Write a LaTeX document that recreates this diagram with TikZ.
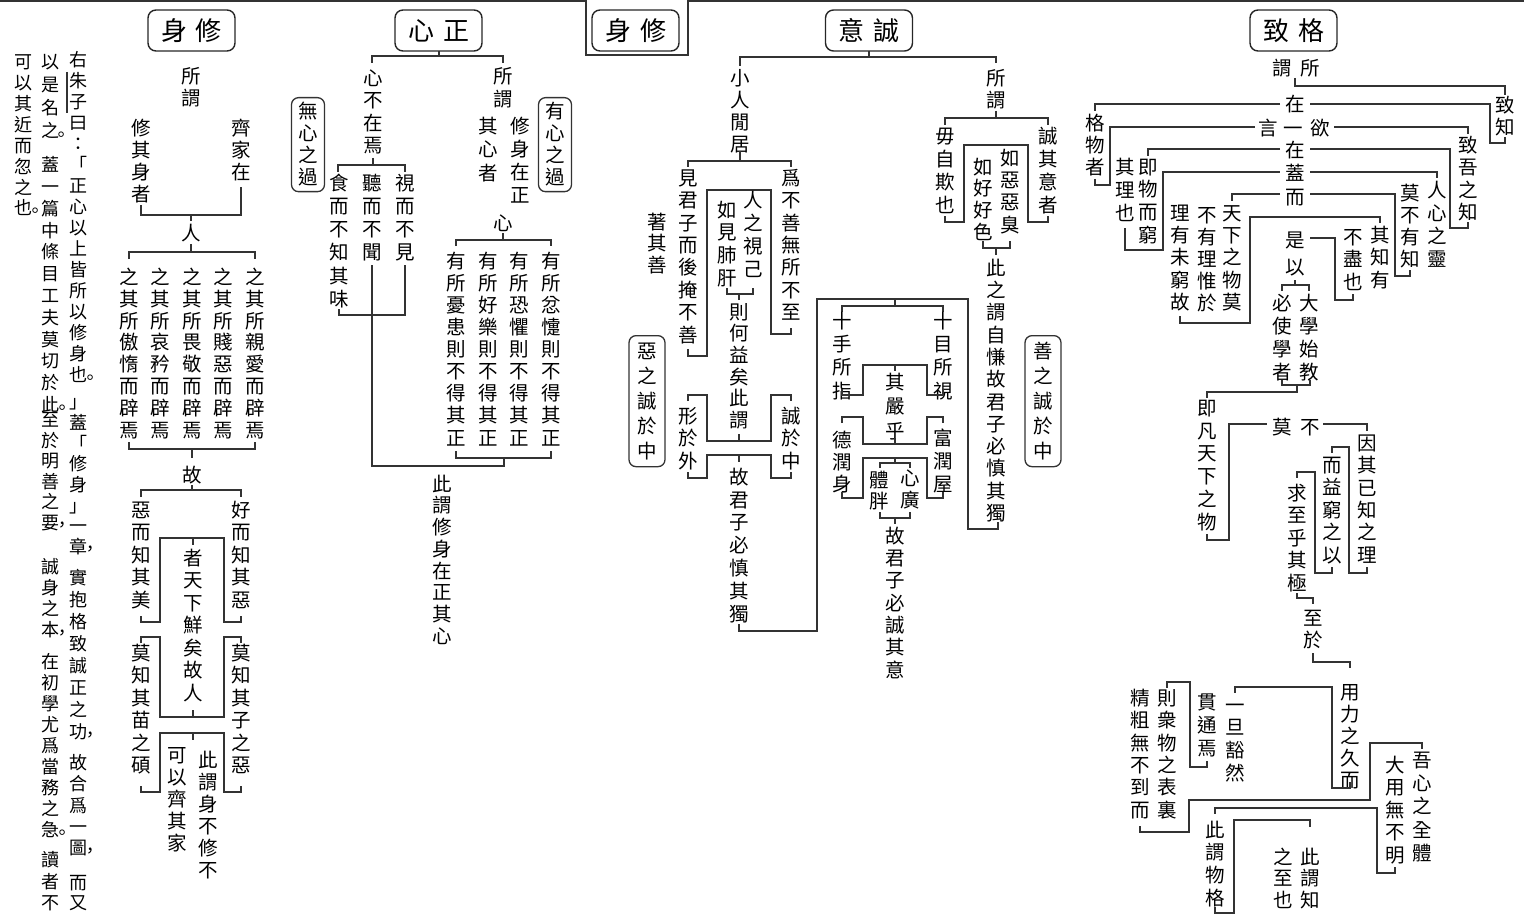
\documentclass[tikz,border=0pt]{standalone}
\usepackage{fontspec}
\newfontfamily\cjk{Noto Sans CJK TC}
\newdimen\cstep
\def\vtEnd{VTEND}
\def\vtA#1{\ifx#1\vtEnd\else\vtcell#1\expandafter\vtA\fi}
\def\vpunct#1{\vbox to 0pt{\vss\hbox to \cstep{\kern 14pt\hbox{#1}\hss}\kern 1.5pt}}
\def\vtcell#1{%
  \ifx#1。\vpunct{#1}\else
  \ifx#1，\vpunct{#1}\else
  \hbox to \cstep{\hss\vbox to \cstep{\vss\hbox{\vrule height .86em depth .14em width 0pt\relax #1}\vss}\hss}%
  \fi\fi}
\newcommand\vtext[2]{\vbox{\offinterlineskip\cstep=#1pt\relax\vtA#2\vtEnd}}
\tikzset{
  ln/.style={line width=1.35pt, draw=black!80},
  vt/.style={inner sep=0pt, font={\cjk\fontsize{19.5}{22}\selectfont}, text=black},
  pt/.style={inner sep=0pt, font={\cjk\fontsize{18}{20}\selectfont}, text=black},
  title/.style={draw=black!85, line width=1.4pt, rounded corners=8pt, minimum width=87pt, minimum height=41pt, inner sep=0pt, font={\cjk\fontsize{26}{26}\selectfont}},
  vbx/.style={vt, draw=black!80, line width=1.3pt, rounded corners=7pt, inner xsep=5.5pt, inner ysep=3pt, anchor=north}
}
\newcommand\VT[5]{\node[vt,anchor=north] (#1) at (#2,{#3-#4/2}) {\vtext{#4}{#5}};}
\newcommand\PT[5]{\node[pt,anchor=north] (#1) at (#2,{#3-#4/2}) {\vtext{#4}{#5}};}
\newcommand\VB[5]{\node[vbx] (#1) at (#2,#3) {\vtext{#4}{#5}};}
\begin{document}
\begin{tikzpicture}[x=1pt,y=-1pt]
\useasboundingbox (0,0) rectangle (1524,915);
% top frame
\draw[ln] (0,1)--(586,1) (688,1)--(1524,1);
\draw[ln] (586,0)--(586,55)--(688,55)--(688,0);
% titles
\node[title] (t1) at (191.5,30.5) {身\kern9pt修};
\node[title] (t2) at (438.5,30.5) {心\kern9pt正};
\node[title] (t3) at (635.5,30.5) {身\kern9pt修};
\node[title] (t4) at (869,30.5) {意\kern9pt誠};
\node[title] (t5) at (1293.5,30.5) {致\kern9pt格};
% ---------- left paragraph ----------
\PT{p1a}{78}{60}{21}{右朱子曰：「正心以上皆所以修身也。}
\PT{p1b}{78}{402}{20.7}{」蓋「修身」一章，}
\PT{p1c}{78}{578}{22}{實抱格致誠正之功，}
\PT{p1d}{78}{763}{21.3}{故合爲一圖，}
\PT{p1e}{78}{883}{20}{而又}
\PT{p2a}{50}{62}{23}{以是名之。}
\PT{p2b}{50}{165}{21.8}{蓋一篇中條目工夫莫切於此。}
\PT{p2c}{50}{420}{20.5}{至於明善之要，}
\PT{p2d}{50}{567}{21}{誠身之本，}
\PT{p2e}{50}{662}{21}{在初學尤爲當務之急。}
\PT{p2f}{50}{860}{21.5}{讀者不}
\PT{p3}{23}{62}{20.9}{可以其近而忽之也。}
\draw[line width=1.1pt, black!80] (67,72)--(67,113);
% ---------- section 1 ----------
\VT{s1}{191}{76}{22}{所謂}
\VT{s2}{141}{128}{22}{修其身者}
\VT{s3}{241}{128}{22}{齊家在}
\draw[ln] (141,205)--(141,215)--(241,215)--(241,187) (191,215)--(191,221);
\VT{s4}{191}{233}{22}{人}
\draw[ln] (191,244)--(191,252) (129,259)--(129,252)--(255,252)--(255,259);
\VT{s5}{129}{277}{21.9}{之其所傲惰而辟焉}
\VT{s6}{160}{277}{21.9}{之其所哀矜而辟焉}
\VT{s7}{192}{277}{21.9}{之其所畏敬而辟焉}
\VT{s8}{223}{277}{21.9}{之其所賤惡而辟焉}
\VT{s9}{255}{277}{21.9}{之其所親愛而辟焉}
\draw[ln] (129,442)--(129,449)--(255,449)--(255,442) (192,449)--(192,458);
\VT{s10}{192}{475}{22}{故}
\draw[ln] (192,485)--(192,490) (141,497)--(141,490)--(241,490)--(241,497);
\VT{s11}{141}{510}{22.5}{惡而知其美}
\VT{s12}{241}{510}{22.5}{好而知其惡}
\draw[ln] (141,616)--(141,622)--(160,622)--(160,538)--(224,538)--(224,622)--(241,622)--(241,616) (193,538)--(193,545);
\VT{s13}{193}{558}{22.5}{者天下鮮矣故人}
\draw[ln] (141,643)--(141,637)--(160,637)--(160,717)--(224,717)--(224,637)--(241,637)--(241,643) (193,717)--(193,710);
\VT{s14}{141}{653}{22.5}{莫知其苗之碩}
\VT{s15}{241}{653}{22.5}{莫知其子之惡}
\draw[ln] (141,786)--(141,792)--(160,792)--(160,733)--(224,733)--(224,792)--(241,792)--(241,786) (193,733)--(193,740);
\VT{s16}{177}{755}{22}{可以齊其家}
\VT{s17}{208}{760}{22}{此謂身不修不}
% ---------- section 2 ----------
\draw[ln] (439,51)--(439,56) (372,63)--(372,56)--(503,56)--(503,63);
\VT{c1}{373}{78}{22.5}{心不在焉}
\VT{c2}{503}{76}{23}{所謂}
\VT{c3}{488}{126}{23.5}{其心者}
\VT{c4}{520}{126}{23}{修身在正}
\VB{c5}{308}{97}{22}{無心之過}
\VB{c6}{555}{97}{22}{有心之過}
\draw[ln] (373,158)--(373,165) (338,172)--(338,165)--(405,165)--(405,172);
\VT{c7}{339}{183}{23.2}{食而不知其味}
\VT{c8}{372}{183}{23}{聽而不聞}
\VT{c9}{405}{183}{23}{視而不見}
\draw[ln] (339,309)--(339,315)--(405,315)--(405,265);
\draw[ln] (372,265)--(372,466)--(504,466)--(504,458);
\VT{c10}{503}{223}{22}{心}
\draw[ln] (503,233)--(503,240) (456,246)--(456,240)--(551,240)--(551,246);
\VT{c11}{456}{261}{22.1}{有所憂患則不得其正}
\VT{c12}{488}{261}{22.1}{有所好樂則不得其正}
\VT{c13}{519}{261}{22.1}{有所恐懼則不得其正}
\VT{c14}{551}{261}{22.1}{有所忿懥則不得其正}
\draw[ln] (456,451)--(456,458)--(551,458)--(551,451);
\VT{c15}{442}{484}{21.7}{此謂修身在正其心}
% ---------- section 4 ----------
\draw[ln] (869,51)--(869,57) (740,66)--(740,57)--(996,57)--(996,63);
\VT{y1}{740}{78}{22}{小人閒居}
\draw[ln] (740,151)--(740,161) (688,167)--(688,161)--(791,161)--(791,167);
\VT{y2}{688}{178}{22.4}{見君子而後掩不善}
\VT{y3}{791}{178}{22.4}{爲不善無所不至}
\VT{y4}{657}{222}{21.5}{著其善}
\draw[ln] (688,349)--(688,356)--(707,356)--(707,190)--(771,190)--(771,334)--(791,334)--(791,328);
\VT{y5}{753}{200}{23}{人之視己}
\VT{y6}{727}{210}{22.7}{如見肺肝}
\draw[ln] (727,288)--(727,294)--(753,294)--(753,288) (739,294)--(739,300);
\VT{y7}{739}{312}{21.6}{則何益矣此謂}
\draw[ln] (688,401)--(688,395)--(707,395)--(707,441)--(771,441)--(771,395)--(791,395)--(791,401) (739,441)--(739,434);
\VT{y8}{688}{416}{22.5}{形於外}
\VT{y9}{791}{416}{22.5}{誠於中}
\draw[ln] (688,472)--(688,478)--(707,478)--(707,455)--(771,455)--(771,478)--(791,478)--(791,472) (739,455)--(739,462);
\VT{y10}{739}{477}{22.8}{故君子必慎其獨}
\draw[ln] (739,624)--(739,631)--(817,631)--(817,299)--(968,299)--(968,529)--(998,529)--(998,522);
\draw[ln] (895,299)--(895,306) (842,312)--(842,306)--(943,306)--(943,312);
\VB{y11}{647}{335}{25}{惡之誠於中}
\VT{y12}{996}{78}{22}{所謂}
\draw[ln] (996,111)--(996,118) (945,125)--(945,118)--(1048,118)--(1048,125);
\VT{y13}{945}{136}{23}{毋自欺也}
\VT{y14}{1048}{136}{23}{誠其意者}
\draw[ln] (945,216)--(945,222)--(964,222)--(964,145)--(1028,145)--(1028,222)--(1048,222)--(1048,216);
\VT{y15}{1010}{158}{22.3}{如惡惡臭}
\VT{y16}{983}{167}{21.7}{如好好色}
\draw[ln] (983,241)--(983,248)--(1010,248)--(1010,241) (996,248)--(996,255);
\VT{y17}{996}{268}{22.3}{此之謂自慊故君子必慎其獨}
\VB{y18}{1043}{335}{25}{善之誠於中}
\VT{y19}{842}{321}{23.3}{十手所指}
\VT{y20}{943}{321}{23.3}{十目所視}
\draw[ln] (842,389)--(842,395)--(863,395)--(863,365)--(927,365)--(927,395)--(943,395)--(943,389) (895,365)--(895,371);
\VT{y21}{895}{382}{24.5}{其嚴乎}
\draw[ln] (842,423)--(842,417)--(863,417)--(863,444)--(927,444)--(927,417)--(943,417)--(943,423) (895,444)--(895,438);
\VT{y22}{842}{440}{22}{德潤身}
\VT{y23}{943}{438}{23}{富潤屋}
\draw[ln] (842,492)--(842,498)--(863,498)--(863,458)--(927,458)--(927,498)--(943,498)--(943,492);
\draw[ln] (895,458)--(895,463) (880,468)--(880,463)--(910,463)--(910,468);
\VT{y24}{879}{480}{21}{體胖}
\VT{y25}{910}{478}{22}{心廣}
\draw[ln] (880,512)--(880,518)--(910,518)--(910,512) (895,518)--(895,524);
\VT{y26}{895}{536}{22.3}{故君子必誠其意}
% ---------- section 5 ----------
\node[vt] (g1) at (1296,68) {謂\kern9pt所};
\draw[ln] (1295,78)--(1295,86)--(1505,86)--(1505,95);
\VT{g2}{1505}{105}{22}{致知}
\draw[ln] (1505,137)--(1505,143)--(1490,143)--(1490,104)--(1310,104);
\VT{g3}{1295}{104}{22}{在}
\draw[ln] (1280,104)--(1095,104)--(1095,111);
\VT{g4}{1095}{123}{22}{格物者}
\draw[ln] (1095,179)--(1095,185)--(1110,185)--(1110,127)--(1255,127);
\node[vt] (g5) at (1294,128) {言\kern6pt一\kern7pt欲};
\draw[ln] (1334,127)--(1468,127)--(1468,134);
\VT{g6}{1468}{145}{22.5}{致吾之知}
\draw[ln] (1468,222)--(1468,228)--(1450,228)--(1450,149)--(1310,149);
\VT{g7}{1295}{150}{22}{在}
\draw[ln] (1280,149)--(1148,149)--(1148,156);
\VT{g8}{1148}{167}{22.7}{即物而窮}
\VT{g9}{1125}{167}{23}{其理也}
\draw[ln] (1125,228)--(1125,250)--(1163,250)--(1163,172)--(1280,172);
\VT{g10}{1295}{173}{22}{蓋}
\draw[ln] (1310,172)--(1437,172)--(1437,178);
\VT{g11}{1437}{190}{23}{人心之靈}
\VT{g12}{1410}{193}{22}{莫不有知}
\draw[ln] (1410,270)--(1410,276)--(1395,276)--(1395,194)--(1310,194);
\VT{g13}{1295}{197}{22}{而}
\draw[ln] (1280,194)--(1232,194)--(1232,201);
\VT{g14}{1232}{213}{22.3}{天下之物莫}
\VT{g15}{1207}{215}{22}{不有理惟於}
\VT{g16}{1180}{213}{22.3}{理有未窮故}
\draw[ln] (1180,316)--(1180,323)--(1250,323)--(1250,217)--(1380,217)--(1380,223);
\VT{g17}{1380}{235}{22.5}{其知有}
\VT{g18}{1353}{237}{22.5}{不盡也}
\draw[ln] (1353,294)--(1353,300)--(1335,300)--(1335,238)--(1310,238);
\VT{g19}{1295}{240}{27}{是以}
\draw[ln] (1295,280)--(1295,285) (1282,291)--(1282,285)--(1309,285)--(1309,291);
\VT{g20}{1282}{303}{23}{必使學者}
\VT{g21}{1309}{303}{23}{大學始教}
\draw[ln] (1282,380)--(1282,385)--(1310,385)--(1310,380) (1297,385)--(1297,392)--(1207,392)--(1207,398);
\VT{g22}{1207}{408}{22.8}{即凡天下之物}
\draw[ln] (1207,534)--(1207,540)--(1229,540)--(1229,424)--(1267,424);
\node[vt] (g23) at (1296,427) {莫\kern8pt不};
\draw[ln] (1323,424)--(1367,424)--(1367,431);
\VT{g24}{1367}{443}{22.4}{因其已知之理}
\draw[ln] (1367,567)--(1367,573)--(1349,573)--(1349,447)--(1332,447)--(1332,453);
\VT{g25}{1332}{465}{22.5}{而益窮之以}
\draw[ln] (1332,567)--(1332,573)--(1315,573)--(1315,472)--(1297,472)--(1297,478);
\VT{g26}{1297}{493}{22.5}{求至乎其極}
\draw[ln] (1297,593)--(1297,598)--(1313,598)--(1313,604);
\VT{g27}{1313}{618}{22}{至於}
\draw[ln] (1313,653)--(1313,662)--(1350,662)--(1350,668);
\VT{g28}{1350}{692}{22}{用力之久而}
\draw[ln] (1350,782)--(1350,788)--(1332,788)--(1332,687)--(1235,687)--(1235,693);
\VT{g29}{1235}{705}{22.7}{一旦豁然}
\VT{g30}{1207}{702}{23}{貫通焉}
\draw[ln] (1207,761)--(1207,767)--(1190,767)--(1190,682)--(1167,682)--(1167,688);
\VT{g31}{1167}{698}{22.4}{則衆物之表裏}
\VT{g32}{1140}{698}{22.4}{精粗無不到而}
\draw[ln] (1140,826)--(1140,832)--(1189,832)--(1189,800)--(1370,800)--(1370,743)--(1422,743)--(1422,749);
\VT{g33}{1422}{760}{23.3}{吾心之全體}
\VT{g34}{1395}{765}{22.5}{大用無不明}
\draw[ln] (1395,867)--(1395,873)--(1377,873)--(1377,808)--(1215,808)--(1215,814);
\VT{g35}{1215}{830}{22.7}{此謂物格}
\draw[ln] (1215,907)--(1215,913)--(1234,913)--(1234,820)--(1310,820)--(1310,827);
\VT{g36}{1310}{857}{21.5}{此謂知}
\VT{g37}{1283}{857}{21.5}{之至也}
\end{tikzpicture}
\end{document}
